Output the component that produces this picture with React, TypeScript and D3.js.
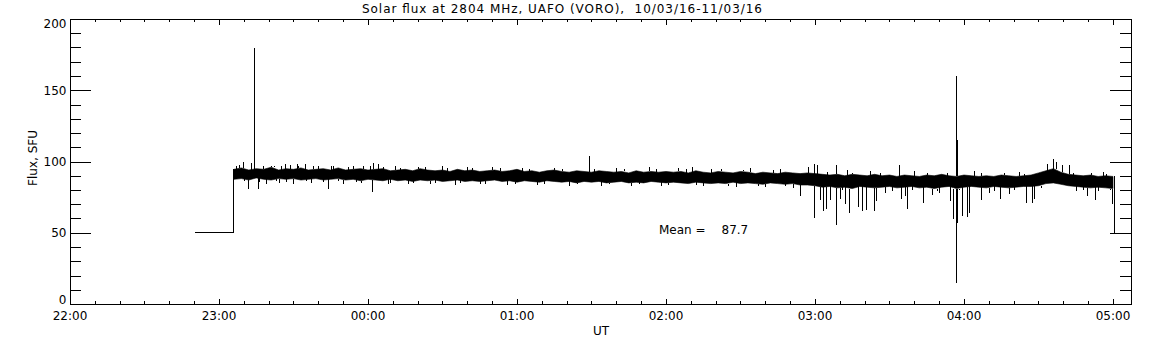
import * as d3 from 'd3';
import React from 'react';

const title = 'Solar flux at 2804 MHz, UAFO (VORO),  10/03/16-11/03/16';
const hourLabels = ['22:00', '23:00', '00:00', '01:00', '02:00', '03:00', '04:00', '05:00'];
const fluxTicks = [0, 50, 100, 150, 200];
const meanFlux = 87.7;

// calibration level before the record starts (minutes since 22:00)
const calMinutes = [50.3, 65.8];
const calValues = [50, 50];
const stopMinute = 420.6;
const stopValue = 50;

// core of the noisy record, sampled every 3 min from 23:06
const bandStart = 66;
const bandStep = 3;
const bandHigh = [
  94.5, 95.5, 94, 95, 94.5, 96, 94, 95, 94.5, 95.5, 94, 94.5, 95, 94, 95.5, 94, 94.5, 95, 94,
  94.5, 95, 93.5, 94, 94.5, 93.5, 95, 94, 93.5, 94, 93, 94.5, 93.5, 94, 93, 93.5, 94, 93, 93.5, 94.5,
  93, 93.5, 92.5, 93.5, 94, 93, 92.5, 93.5, 93, 92.5, 93.5, 93, 92.5, 93, 92, 93.5, 92.5, 93, 92.5, 93,
  92.5, 93, 92, 93.5, 92.5, 92, 93, 92.5, 92, 93, 92.5, 91.5, 92.5, 92, 91.5, 92.5, 92, 91.5, 92,
  91.5, 91, 90.5, 91, 90, 91, 90.5, 90, 91, 90, 90.5, 89.5, 90.5, 90, 89.5, 90.5, 90, 91, 90, 89.5,
  90.5, 90, 89.5, 90, 89.5, 90.5, 90, 89.5, 90, 90.5, 92, 93.5, 95, 92.5, 91, 90.5, 90, 90.5, 89.5, 90, 89.5,
];
const bandLow = [
  87.5, 88, 87, 88.5, 87.5, 87, 88, 87.5, 88, 87, 87.5, 88, 87, 87.5, 88, 87, 87.5, 86.5, 87.5,
  87, 86.5, 87.5, 86.5, 87, 86, 87, 86.5, 87, 86, 86.5, 87, 86, 86.5, 86, 86.5, 87, 86, 86.5, 85.5,
  86.5, 86, 85.5, 86.5, 86, 85.5, 86, 85, 86, 85.5, 86, 85, 85.5, 86, 85, 85.5, 85, 86, 85.5, 85,
  85.5, 85, 84.5, 85.5, 85, 84.5, 85, 84.5, 85.5, 84.5, 85, 84.5, 84, 85, 84.5, 84, 84.5, 83.5, 83.5,
  83, 82, 82.5, 81.5, 82, 81, 82.5, 82, 81.5, 82, 82.5, 81.5, 82, 82.5, 81.5, 82, 81, 82, 82.5, 81,
  82, 82.5, 82, 81.5, 82.5, 82, 81.5, 82, 82.5, 82.5, 83, 84.5, 85, 84, 83, 82.5, 82, 81.5, 82, 81.5, 81,
];

// individual excursions out of the band
const spikeMinutes = [
  68, 69.7, 71.7, 72.9, 74.2, 75.7, 77.7, 79, 82, 84, 86.6, 88.6, 90, 91.4, 94.6, 97, 100, 103.8, 106,
  110, 114, 117, 120.8, 121.5, 122, 124, 128, 131, 136, 140, 145, 150, 155, 160, 165, 170, 176, 182,
  188, 195, 201, 208.9, 214, 220, 226, 233, 238, 245, 250.4, 255, 262, 268, 274, 280, 286, 291, 294,
  297, 299.6, 299.7, 300.8, 302, 303.2, 304.4, 306, 308.5, 308.5, 310, 312.1, 312.9, 313.7, 317.3,
  318.9, 320.6, 322, 323.8, 324.6, 328, 333.8, 334.6, 336.2, 337, 340, 343.5, 347.1, 350, 354.4,
  355.6, 356.7, 356.7, 357.2, 357.2, 359.2, 361.2, 362, 364, 366.9, 370, 374.5, 378, 382, 385, 387.3,
  388.2, 393.5, 395.9, 397, 399.3, 402.3, 405, 409.6, 412.8, 416, 418.8, 419.5,
];
const spikeValues = [
  97.5, 99.9, 80.5, 99.2, 180, 81, 97, 84.5, 97, 85, 98, 97.5, 84, 98, 98, 85, 96.5, 80.5, 97,
  84.5, 96.5, 85, 97, 78.8, 99, 98, 84.5, 96.5, 84, 96, 84.5, 96.5, 83.5, 96, 84, 96, 83.5, 95.5,
  83.5, 95.5, 83, 104, 83, 95.5, 83, 96, 82.5, 95.5, 96.4, 82.5, 95, 82, 95.5, 82, 95, 81.5, 75.8,
  96, 98, 60.6, 97.5, 73, 65, 67, 73, 97.6, 55.4, 74, 70, 94, 63.6, 68,
  65, 66, 93.5, 65, 72, 78, 97.5, 74, 76, 67, 93, 71, 76.5, 78, 72,
  60, 160, 14.5, 115, 57, 62, 61, 64, 93, 73, 78, 74, 77, 92.5, 71, 71,
  74, 98, 101.5, 99.5, 97.5, 97.5, 79, 76, 73, 92.5, 80, 70,
];

// short fuzz just outside the band edges
const fringeMinutes = [
  67, 70, 73, 76, 81, 83, 85, 87, 92, 95, 98, 102, 105, 108, 112, 115, 118,
  126, 129, 133, 138, 143, 147, 152, 157, 162, 167, 173, 179, 185, 191, 198, 204, 211, 217, 223, 229, 236,
  241, 248, 252, 258, 265, 271, 277, 283, 288,
  305, 311, 315, 326, 331, 339, 345, 349, 353, 358, 367, 372, 376, 380, 384, 391, 404, 408, 411, 414, 417,
];
const fringeValues = [
  96.5, 86, 97, 85.5, 96.5, 86, 97, 85.5, 96.5, 86, 97, 85.5, 96.5, 86, 96, 85.5, 96.5,
  96, 85, 95.5, 85, 96, 85, 95.5, 85, 95.5, 84.5, 95.5, 84.5, 95, 84.5, 95, 84, 95, 84, 95, 84, 95,
  83.5, 94.5, 83.5, 94.5, 83, 94, 83, 94, 83,
  92.5, 80, 92, 92, 79.5, 80, 92, 79.5, 92, 80, 92, 79.5, 92, 80, 91.5, 81.5, 92, 80, 92, 79.5, 91.5,
];

const W = 1152;
const H = 345;
const left = 70;
const right = 1131;
const top = 19;
const bottom = 304;
const font = '"DejaVu Sans", sans-serif';

export default function App() {
  const x = d3.scaleLinear().domain([0, 427.25]).range([left, right]);
  const y = d3.scaleLinear().domain([0, 200]).range([bottom, top]);

  const band = d3
    .area<number>()
    .x((_, i) => x(bandStart + i * bandStep))
    .y0((_, i) => y(bandLow[i]))
    .y1((d) => y(d));

  const line = d3
    .line<[number, number]>()
    .x((d) => x(d[0]))
    .y((d) => y(d[1]));

  const calPath = line([
    [calMinutes[0], calValues[0]],
    [calMinutes[1], calValues[1]],
    [calMinutes[1], bandHigh[0]],
  ]);
  const last = bandLow.length - 1;
  const stopPath = line([
    [stopMinute, bandHigh[last]],
    [stopMinute, stopValue],
  ]);

  const baseAt = (m: number, v: number) => {
    const i = Math.max(0, Math.min(last, Math.round((m - bandStart) / bandStep)));
    return v > bandHigh[i] ? bandHigh[i] : bandLow[i];
  };

  const hourTicks = hourLabels.map((_, i) => i * 60);
  const minorX = d3.range(0, 428, 10).filter((m) => m % 60 !== 0);
  const minorY = d3.range(0, 201, 10).filter((v) => v % 50 !== 0);
  const px = (v: number) => Math.round(v) + 0.5;

  const whisker = (m: number, v: number, key: string) => (
    <line key={key} x1={px(x(m))} x2={px(x(m))} y1={y(baseAt(m, v))} y2={y(v)} />
  );

  return (
    <svg
      width={W}
      height={H}
      style={{ position: 'absolute', left: 0, top: 0, background: '#fff' }}
      fontFamily={font}
      fontSize={12}
    >
      <rect width={W} height={H} fill="#fff" />
      <g stroke="#000" strokeWidth={1} shapeRendering="crispEdges" fill="none">
        <rect x={px(left)} y={px(top)} width={Math.round(right - left)} height={Math.round(bottom - top)} />
        {hourTicks.map((m) => (
          <g key={'h' + m}>
            <line x1={px(x(m))} x2={px(x(m))} y1={bottom} y2={bottom - 5.5} />
            <line x1={px(x(m))} x2={px(x(m))} y1={top} y2={top + 5.5} />
          </g>
        ))}
        {minorX.map((m) => (
          <g key={'m' + m}>
            <line x1={px(x(m))} x2={px(x(m))} y1={bottom} y2={bottom - 3} />
            <line x1={px(x(m))} x2={px(x(m))} y1={top} y2={top + 3} />
          </g>
        ))}
        {fluxTicks.map((v) => (
          <g key={'f' + v}>
            <line x1={left} x2={left + 21} y1={px(y(v))} y2={px(y(v))} />
            <line x1={right} x2={right - 21} y1={px(y(v))} y2={px(y(v))} />
          </g>
        ))}
        {minorY.map((v) => (
          <g key={'n' + v}>
            <line x1={left} x2={left + 11} y1={px(y(v))} y2={px(y(v))} />
            <line x1={right} x2={right - 11} y1={px(y(v))} y2={px(y(v))} />
          </g>
        ))}
      </g>

      <path d={band(bandHigh) ?? ''} fill="#000" stroke="#000" strokeWidth={0.6} />
      <g stroke="#000" strokeWidth={1} shapeRendering="crispEdges" fill="none">
        <path d={calPath ?? ''} />
        <path d={stopPath ?? ''} />
        {fringeMinutes.map((m, i) => whisker(m, fringeValues[i], 'r' + i))}
        {spikeMinutes.map((m, i) => whisker(m, spikeValues[i], 's' + i))}
      </g>

      <g fill="#000">
        <text
          x={562}
          y={13}
          textAnchor="middle"
          textLength={400}
          lengthAdjust="spacing"
          style={{ whiteSpace: 'pre' }}
        >
          {title}
        </text>
        {fluxTicks.map((v) => (
          <text
            key={'yl' + v}
            x={66.5}
            y={v === 0 ? bottom : v === 200 ? top + 8.5 : y(v) + 4.5}
            textAnchor="end"
          >
            {v}
          </text>
        ))}
        {hourLabels.map((lab, i) => (
          <text key={'xl' + lab} x={x(hourTicks[i])} y={320} textAnchor="middle">
            {lab}
          </text>
        ))}
        <text x={601} y={335} textAnchor="middle">
          UT
        </text>
        <text transform="translate(37,158) rotate(-90)" textAnchor="middle">
          Flux, SFU
        </text>
        <text x={659} y={234}>Mean =</text>
        <text x={721.5} y={234}>{meanFlux.toFixed(1)}</text>
      </g>
    </svg>
  );
}
